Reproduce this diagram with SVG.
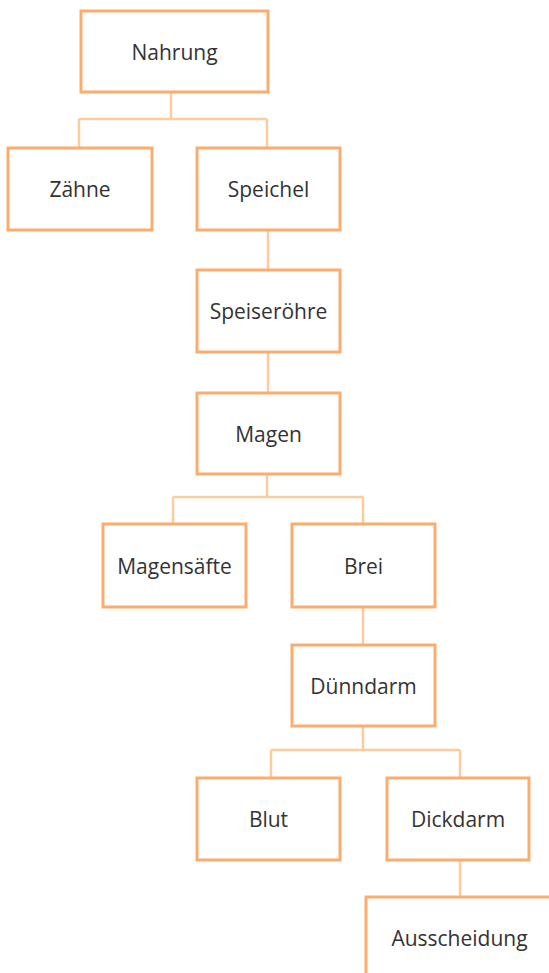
<svg xmlns="http://www.w3.org/2000/svg" width="549" height="973" viewBox="0 0 549 973">
<style>
.box{fill:#ffffff;stroke:#FBAD6F;stroke-width:3}
.lbl{font-family:"Open Sans","Noto Sans",sans-serif;font-size:21px;fill:#333333;text-anchor:middle}
.conn{fill:none;stroke:#FDCB9E;stroke-width:2.5}
</style>
<rect width="549" height="973" fill="#ffffff"/>
<g id="connectors">
<path class="conn" d="M171,92 V119 M79,119 H267 M79,119 V148 M267,119 V148"/>
<path class="conn" d="M268,230 V270"/>
<path class="conn" d="M268,352 V392"/>
<path class="conn" d="M267,474 V497 M173,497 H363 M173,497 V524 M363,497 V524"/>
<path class="conn" d="M363,607 V645"/>
<path class="conn" d="M363,726 V750 M271,750 H460 M271,750 V778 M460,750 V778"/>
<path class="conn" d="M460,860 V897"/>
</g>
<g id="nahrung"><rect class="box" x="81" y="11" width="187" height="81"/><text class="lbl" x="174.5" y="60">Nahrung</text></g>
<g id="zaehne"><rect class="box" x="8" y="148" width="144" height="82"/><text class="lbl" x="80" y="197">Zähne</text></g>
<g id="speichel"><rect class="box" x="197" y="148" width="143" height="82"/><text class="lbl" x="268.5" y="197">Speichel</text></g>
<g id="speiseroehre"><rect class="box" x="197" y="270" width="143" height="82"/><text class="lbl" x="268.5" y="319">Speiseröhre</text></g>
<g id="magen"><rect class="box" x="197" y="393" width="143" height="81"/><text class="lbl" x="268.5" y="442">Magen</text></g>
<g id="magensaefte"><rect class="box" x="103" y="524" width="143" height="83"/><text class="lbl" x="174.5" y="574">Magensäfte</text></g>
<g id="brei"><rect class="box" x="292" y="524" width="143" height="83"/><text class="lbl" x="363.5" y="574">Brei</text></g>
<g id="duenndarm"><rect class="box" x="292" y="645" width="143" height="81"/><text class="lbl" x="363.5" y="694">Dünndarm</text></g>
<g id="blut"><rect class="box" x="197" y="778" width="143" height="82"/><text class="lbl" x="268.5" y="827">Blut</text></g>
<g id="dickdarm"><rect class="box" x="387" y="778" width="142" height="82"/><text class="lbl" x="458" y="827">Dickdarm</text></g>
<g id="ausscheidung"><rect class="box" x="366" y="897" width="187" height="81"/><text class="lbl" x="459.5" y="946">Ausscheidung</text></g>
</svg>
